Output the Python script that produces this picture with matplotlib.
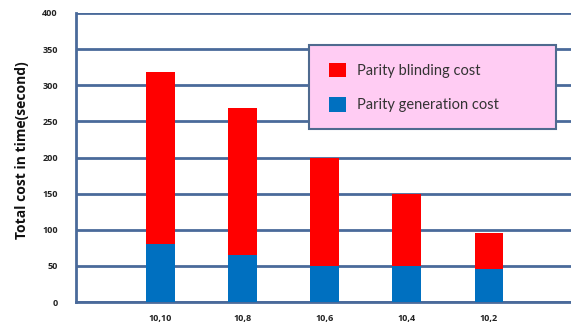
import matplotlib
matplotlib.use("Agg")
import matplotlib.pyplot as plt
from matplotlib.patches import Rectangle, Patch
import numpy as np

categories = ["10,10", "10,8", "10,6", "10,4", "10,2"]
generation_cost = [80, 65, 50, 50, 45]
blinding_cost = [238, 203, 150, 100, 50]
yticks = [0, 50, 100, 150, 200, 250, 300, 350, 400]

W, H = 571, 324
fig = plt.figure(figsize=(W / 100, H / 100), dpi=100)
ax = fig.add_axes([76 / W, 1 - 302 / H, (571 - 76) / W, (302 - 13) / H])

grid_c = "#4A6A9A"
red = "#FF0000"
blue = "#0070C0"

x = np.arange(len(categories))
ax.bar(x, generation_cost, width=0.35, color=blue, zorder=3)
ax.bar(x, blinding_cost, width=0.35, bottom=generation_cost, color=red, zorder=3)

ax.set_xlim(-1.03, 5.0)
ax.set_ylim(0, 400)
ax.set_yticks(yticks)
ax.set_yticklabels([str(t) for t in yticks], fontsize=6.5, fontweight="bold",
                   family="Open Sans", color="#222222")
ax.set_xticks(x)
ax.set_xticklabels(categories, fontsize=6.5, fontweight="bold",
                   family="Open Sans", color="#222222")
ax.tick_params(axis="both", length=0)
ax.tick_params(axis="y", pad=13)
ax.tick_params(axis="x", pad=9)

for yv in yticks:
    ax.axhline(yv, color=grid_c, lw=2, zorder=1)

for s in ["top", "right"]:
    ax.spines[s].set_visible(False)
for s in ["left", "bottom"]:
    ax.spines[s].set_color(grid_c)
    ax.spines[s].set_linewidth(2)

fig.text(22 / W, 1 - 150 / H, "Total cost in time(second)", rotation=90,
         ha="center", va="center", fontsize=10, fontweight="bold",
         family="Open Sans", color="#111111")

rect = Rectangle((309 / W, 1 - 129 / H), 247 / W, 84 / H, transform=fig.transFigure,
                 facecolor="#FFCCF3", edgecolor="#4F6A8F", lw=1.5, zorder=5)
fig.patches.append(rect)

handles = [Patch(facecolor=red, label="Parity blinding cost"),
           Patch(facecolor=blue, label="Parity generation cost")]
leg = fig.legend(handles=handles, loc="upper left",
                 bbox_to_anchor=(329 / W, 1 - 63 / H), bbox_transform=fig.transFigure,
                 frameon=False, borderpad=0, borderaxespad=0,
                 handlelength=1.15, handleheight=1.15, handletextpad=0.8,
                 labelspacing=1.3, prop={"family": "Lato", "size": 10.5})
leg.set_zorder(6)
for t in leg.get_texts():
    t.set_color("#333333")

fig.savefig("out.png", dpi=100)
